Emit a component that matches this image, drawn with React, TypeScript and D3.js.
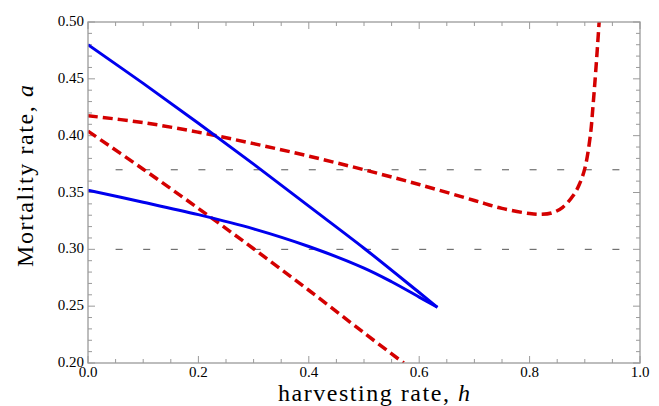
import React from "react";
import * as d3 from "d3";

const W = 659;
const H = 406;

// Read-off data
const blueUpperH = [0, 0.1, 0.2, 0.3, 0.4, 0.5, 0.6, 0.633];
const blueUpperA = [0.48, 0.446, 0.411, 0.375, 0.338, 0.301, 0.262, 0.249];

const blueLowerH = [0, 0.1, 0.2, 0.3, 0.4, 0.5, 0.55, 0.6, 0.633];
const blueLowerA = [0.352, 0.3415, 0.3305, 0.318, 0.3025, 0.2835, 0.2715, 0.258, 0.249];

const redUpperH = [0, 0.1, 0.2, 0.3, 0.4, 0.5, 0.6, 0.7, 0.75, 0.8, 0.82, 0.84, 0.86, 0.88, 0.89, 0.9, 0.91, 0.915, 0.92, 0.926];
const redUpperA = [0.4175, 0.4115, 0.403, 0.393, 0.382, 0.37, 0.357, 0.343, 0.336, 0.3315, 0.3308, 0.332, 0.337, 0.348, 0.357, 0.371, 0.4, 0.427, 0.458, 0.5];

const redLowerH = [0, 0.1, 0.2, 0.3, 0.4, 0.5, 0.572];
const redLowerA = [0.404, 0.3705, 0.336, 0.3005, 0.264, 0.2265, 0.2];

const refLevels = [0.37, 0.3];

const xTickLabels = ["0.0", "0.2", "0.4", "0.6", "0.8", "1.0"];
const yTickLabels = ["0.20", "0.25", "0.30", "0.35", "0.40", "0.45", "0.50"];

const margin = { left: 88, right: 19, top: 22, bottom: 43 };

export default function App() {
  const x = d3.scaleLinear().domain([0, 1]).range([margin.left, W - margin.right]);
  const y = d3.scaleLinear().domain([0.2, 0.5]).range([H - margin.bottom, margin.top]);

  const line = d3
    .line<[number, number]>()
    .x((d) => x(d[0]))
    .y((d) => y(d[1]))
    .curve(d3.curveCatmullRom.alpha(0.5));

  const zip = (a: number[], b: number[]) => a.map((v, i) => [v, b[i]] as [number, number]);

  const frame = "#9a9a9a";
  const x0 = x(0), x1 = x(1), y0 = y(0.2), y1 = y(0.5);

  const xMinor = d3.range(0, 21).map((i) => i * 0.05);
  const yMinor = d3.range(0, 31).map((i) => 0.2 + i * 0.01);

  const dashPeriod = x(0.05) - x(0);
  const dashLen = 7;

  return (
    <svg
      width={W}
      height={H}
      style={{ position: "absolute", left: 0, top: 0, background: "#fff" }}
      fontFamily="'Liberation Serif', 'Times New Roman', serif"
    >
      <defs>
        <clipPath id="plotClip">
          <rect x={x0} y={y1} width={x1 - x0} height={y0 - y1} />
        </clipPath>
      </defs>

      {/* reference dashed lines */}
      {refLevels.map((lv) => (
        <line
          key={lv}
          x1={x(0.05)}
          x2={x(0.95) + dashLen}
          y1={y(lv)}
          y2={y(lv)}
          stroke="#555"
          strokeWidth={1}
          strokeDasharray={`${dashLen} ${dashPeriod - dashLen}`}
        />
      ))}

      {/* ticks */}
      {xMinor.map((v, i) => {
        const major = i % 4 === 0;
        const len = major ? 7 : 4;
        return (
          <g key={"xt" + i}>
            <line x1={x(v)} x2={x(v)} y1={y0} y2={y0 - len} stroke={frame} strokeWidth={1} />
            <line x1={x(v)} x2={x(v)} y1={y1} y2={y1 + len} stroke={frame} strokeWidth={1} />
          </g>
        );
      })}
      {yMinor.map((v, i) => {
        const major = i % 5 === 0;
        const len = major ? 7 : 4;
        return (
          <g key={"yt" + i}>
            <line x1={x0} x2={x0 + len} y1={y(v)} y2={y(v)} stroke={frame} strokeWidth={1} />
            <line x1={x1} x2={x1 - len} y1={y(v)} y2={y(v)} stroke={frame} strokeWidth={1} />
          </g>
        );
      })}

      {/* curves */}
      <g clipPath="url(#plotClip)">
        <path d={line(zip(redUpperH, redUpperA)) || ""} fill="none" stroke="#d40000" strokeWidth={3.5} strokeDasharray="10 5" />
        <path d={line(zip(redLowerH, redLowerA)) || ""} fill="none" stroke="#d40000" strokeWidth={3.5} strokeDasharray="10 5" />
        <path d={line(zip(blueUpperH, blueUpperA)) || ""} fill="none" stroke="#0000ee" strokeWidth={3} />
        <path d={line(zip(blueLowerH, blueLowerA)) || ""} fill="none" stroke="#0000ee" strokeWidth={3} />
      </g>

      {/* frame */}
      <rect x={x0} y={y1} width={x1 - x0} height={y0 - y1} fill="none" stroke={frame} strokeWidth={1.3} />

      {/* tick labels */}
      {xTickLabels.map((t) => (
        <text key={t} x={x(+t)} y={377} textAnchor="middle" fontSize={15} fill="#000">
          {t}
        </text>
      ))}
      {yTickLabels.map((t) => (
        <text key={t} x={84} y={y(+t) + 4} textAnchor="end" fontSize={15} fill="#000">
          {t}
        </text>
      ))}

      {/* axis titles */}
      <text x={374} y={401} textAnchor="middle" fontSize={24} fill="#000" textLength={192} lengthAdjust="spacing">
        harvesting rate, <tspan fontStyle="italic">h</tspan>
      </text>
      <text
        transform="translate(33,176) rotate(-90)"
        textAnchor="middle"
        fontSize={24}
        fill="#000"
        textLength={182}
        lengthAdjust="spacing"
      >
        Mortality rate, <tspan fontStyle="italic">a</tspan>
      </text>
    </svg>
  );
}
